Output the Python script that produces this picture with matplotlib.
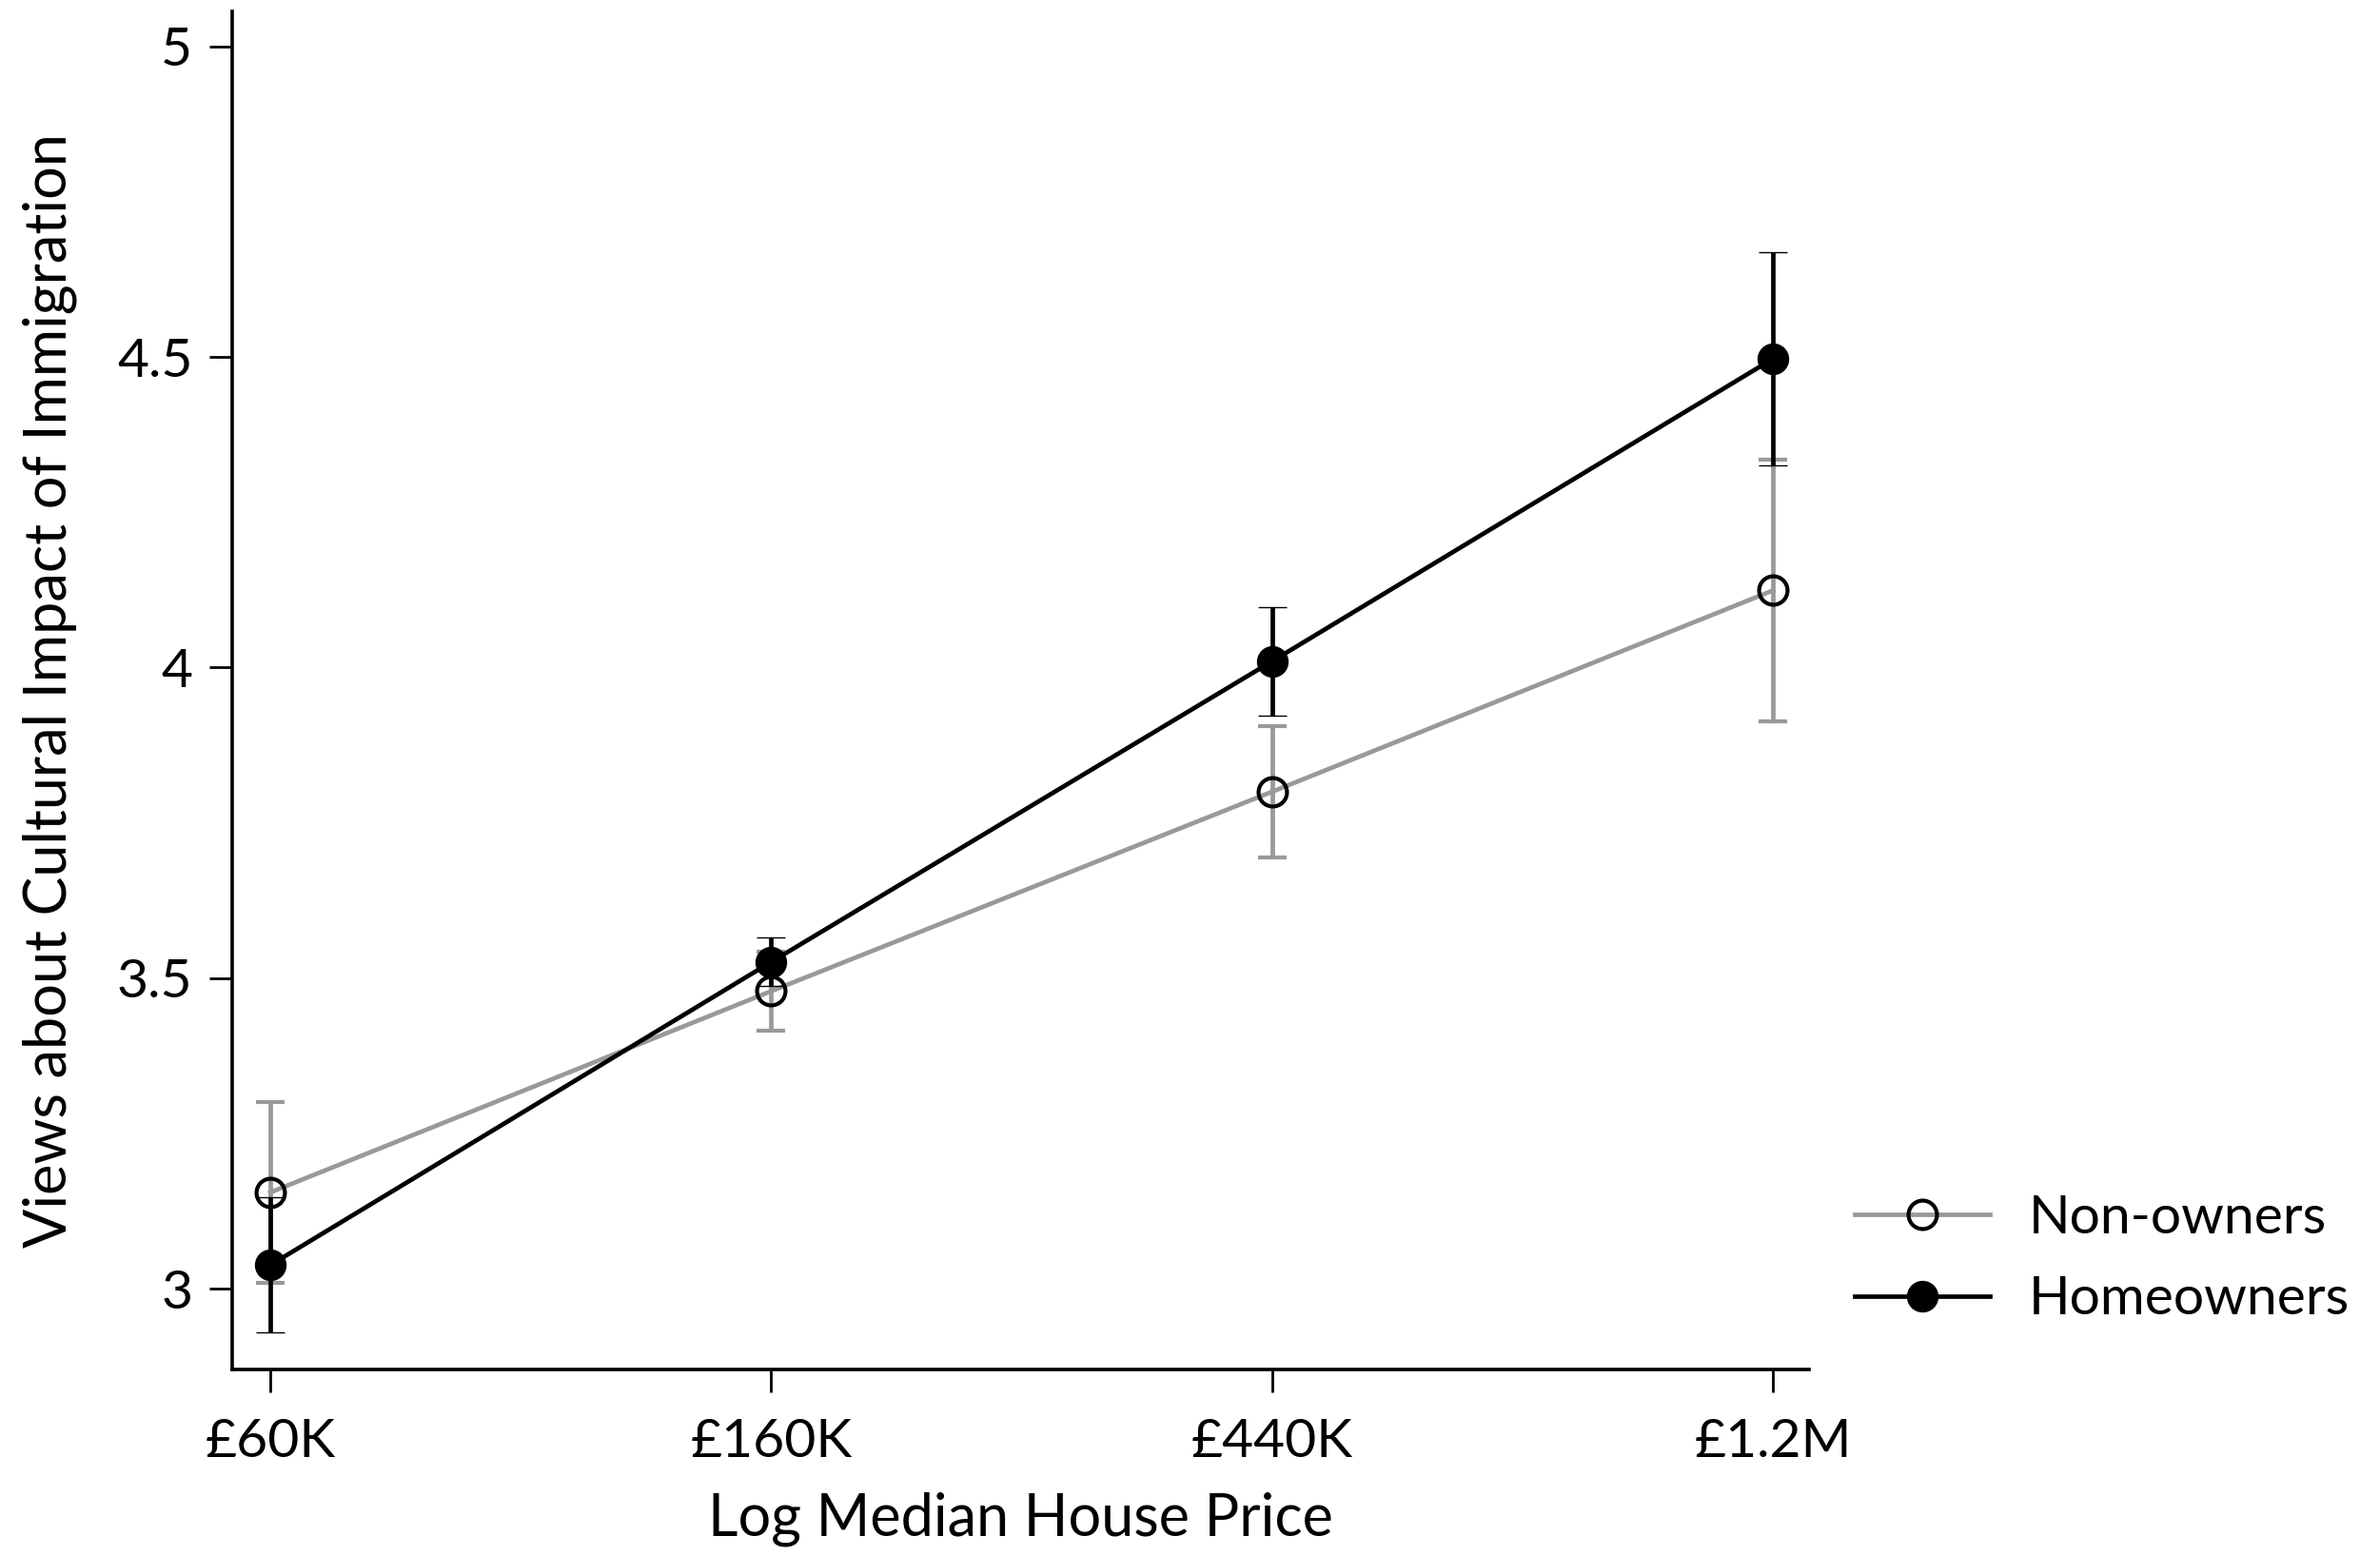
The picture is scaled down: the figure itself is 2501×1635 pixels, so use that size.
import matplotlib
matplotlib.use("Agg")
import matplotlib.pyplot as plt
from matplotlib import font_manager

# ---- data ----
price_labels = ["£60K", "£160K", "£440K", "£1.2M"]
log_price = [0, 1, 2, 3]

non_owners_mean = [3.155, 3.479, 3.800, 4.124]
non_owners_err = [0.145, 0.063, 0.106, 0.210]

homeowners_mean = [3.038, 3.526, 4.010, 4.497]
homeowners_err = [0.109, 0.039, 0.087, 0.172]

y_ticks = [3, 3.5, 4, 4.5, 5]
y_tick_labels = ["3", "3.5", "4", "4.5", "5"]

# ---- style ----
names = {f.name for f in font_manager.fontManager.ttflist}
family = [f for f in ["Lato", "Open Sans", "DejaVu Sans"] if f in names]
plt.rcParams["font.family"] = family
plt.rcParams["font.weight"] = "normal"
plt.rcParams["text.color"] = "black"
plt.rcParams["xtick.color"] = "black"
plt.rcParams["ytick.color"] = "black"

GRAY = "#999999"
BLACK = "#000000"
FS = 41

fig = plt.figure(figsize=(25.01, 16.35), dpi=100)
ax = fig.add_axes([0.0976, 0.1199, 0.6625, 0.8727])

lw = 3.4
no = ax.errorbar(log_price, non_owners_mean, yerr=non_owners_err,
                 fmt="-o", color=GRAY, lw=lw, elinewidth=lw, capsize=11,
                 capthick=lw, ms=21.5, mfc="none", mec=BLACK, mew=3.0,
                 zorder=2)
ho = ax.errorbar(log_price, homeowners_mean, yerr=homeowners_err,
                 fmt="-o", color=BLACK, lw=lw, elinewidth=lw, capsize=11,
                 capthick=lw, ms=23, mfc=BLACK, mec=BLACK, mew=1.0,
                 zorder=3)

ax.set_xlim(-0.076, 3.072)
ax.set_ylim(2.87, 5.056)
ax.set_xticks(log_price)
ax.set_xticklabels(price_labels)
ax.set_yticks(y_ticks)
ax.set_yticklabels(y_tick_labels)

for s in ["top", "right"]:
    ax.spines[s].set_visible(False)
for s in ["left", "bottom"]:
    ax.spines[s].set_linewidth(2.6)

ax.tick_params(axis="both", length=17, width=2.0, labelsize=FS, pad=13)
ax.tick_params(axis="x", pad=20)

ax.set_xlabel("Log Median House Price", fontsize=44, labelpad=19)
ax.set_ylabel("Views about Cultural Impact of Immigration", fontsize=44,
              labelpad=30)

fig.legend([no[0], ho[0]], ["Non-owners", "Homeowners"],
           loc="center left", bbox_to_anchor=(0.7793, 0.1906),
           frameon=False, fontsize=FS, handlelength=2.5,
           handletextpad=0.7, labelspacing=0.6, borderpad=0,
           borderaxespad=0)

fig.savefig("out.png", dpi=100)
